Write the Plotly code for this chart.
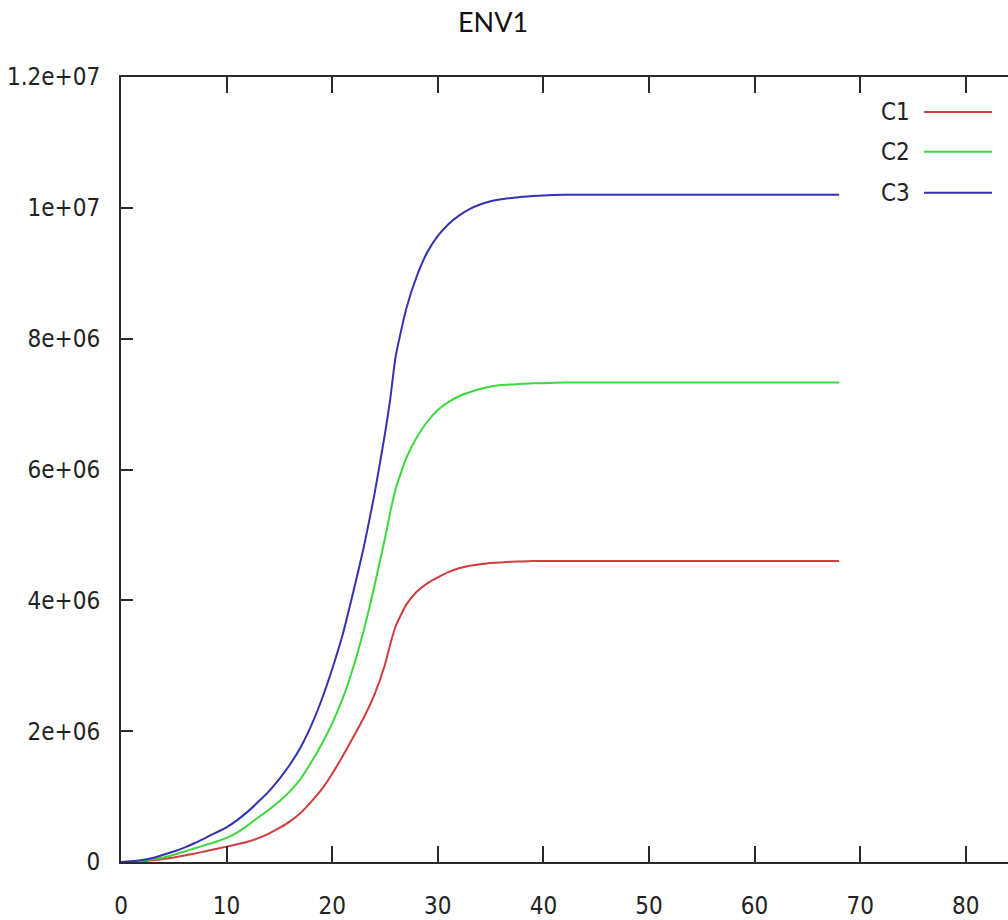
import plotly.graph_objects as go

# Time axis (shared by all three series)
t = [0, 1, 2, 3, 4, 5, 6, 7, 8, 9, 10, 11, 12, 13, 14, 15, 16, 17, 18, 19, 20,
     21, 22, 23, 24, 25, 25.5, 26, 27, 28, 29, 30, 31, 32, 33, 34, 35, 36, 37, 38,
     39, 40, 42, 44, 46, 48, 50, 52, 54, 56, 58, 60, 62, 64, 66, 68]

# Series values (millions)
c1 = [0, 0.003, 0.01, 0.025, 0.045, 0.07, 0.10, 0.13, 0.165, 0.20, 0.235, 0.27,
      0.31, 0.365, 0.435, 0.52, 0.62, 0.75, 0.92, 1.11, 1.35, 1.62, 1.91, 2.21,
      2.56, 3.02, 3.33, 3.60, 3.93, 4.13, 4.26, 4.35, 4.43, 4.49, 4.53, 4.55,
      4.57, 4.58, 4.59, 4.595, 4.60, 4.60, 4.60, 4.60, 4.60, 4.60, 4.60, 4.60,
      4.60, 4.60, 4.60, 4.60, 4.60, 4.60, 4.60, 4.60]
c2 = [0, 0.005, 0.02, 0.04, 0.07, 0.11, 0.16, 0.21, 0.26, 0.31, 0.37, 0.45,
      0.56, 0.68, 0.80, 0.93, 1.08, 1.27, 1.52, 1.80, 2.12, 2.50, 2.98, 3.55,
      4.22, 4.95, 5.35, 5.70, 6.17, 6.49, 6.73, 6.91, 7.03, 7.12, 7.18, 7.23,
      7.27, 7.29, 7.30, 7.31, 7.32, 7.32, 7.33, 7.33, 7.33, 7.33, 7.33, 7.33,
      7.33, 7.33, 7.33, 7.33, 7.33, 7.33, 7.33, 7.33]
c3 = [0, 0.01, 0.03, 0.06, 0.11, 0.16, 0.22, 0.29, 0.37, 0.45, 0.53, 0.64,
      0.77, 0.92, 1.08, 1.27, 1.49, 1.75, 2.08, 2.48, 2.95, 3.48, 4.13, 4.82,
      5.62, 6.55, 7.08, 7.72, 8.45, 8.95, 9.32, 9.57, 9.75, 9.88, 9.98, 10.05,
      10.10, 10.13, 10.15, 10.17, 10.18, 10.19, 10.20, 10.20, 10.20, 10.20,
      10.20, 10.20, 10.20, 10.20, 10.20, 10.20, 10.20, 10.20, 10.20, 10.20]

series_names = ["C1", "C2", "C3"]
series_colors = ["#d23c3c", "#3cd83c", "#3232b4"]

x_ticks = [0, 10, 20, 30, 40, 50, 60, 70, 80]
y_ticks = [0, 2e6, 4e6, 6e6, 8e6, 1e7, 1.2e7]
y_tick_text = ["0", "2e+06", "4e+06", "6e+06", "8e+06", "1e+07", "1.2e+07"]

W, H = 1008, 920
L, R, T, B = 121, 0, 77, 56
tick_font = dict(family="DejaVu Sans Condensed, DejaVu Sans", size=24, color="#222222")

fig = go.Figure()
for name, vals, col in zip(series_names, [c1, c2, c3], series_colors):
    fig.add_trace(go.Scatter(
        x=t, y=[v * 1e6 for v in vals], mode="lines", name=name,
        line=dict(color=col, width=2, shape="spline", smoothing=0.5),
        showlegend=False,
    ))

# gnuplot-style key: label on the left, line sample on the right
pw, ph = W - L - R, H - T - B
def px_x(p):
    return (p - L) / pw
def px_y(p):
    return (H - B - p) / ph

key_rows = [112, 152, 193]
for name, col, ry in zip(series_names, series_colors, key_rows):
    fig.add_shape(type="line", xref="paper", yref="paper",
                  x0=px_x(924), x1=px_x(992), y0=px_y(ry), y1=px_y(ry),
                  line=dict(color=col, width=2))
    fig.add_annotation(text=name, xref="paper", yref="paper",
                       x=px_x(912), y=px_y(ry), xanchor="right", yanchor="middle",
                       showarrow=False, font=tick_font)

fig.add_annotation(text="ENV1", xref="paper", yref="paper",
                   x=px_x(493), y=px_y(21), xanchor="center", yanchor="middle",
                   showarrow=False,
                   font=dict(family="Lato, Open Sans, sans-serif", size=27, color="#111111"))

axis_common = dict(
    showgrid=False, zeroline=False, showline=True, linecolor="#2a2a2a",
    linewidth=2, ticks="inside", tickcolor="#2a2a2a", tickwidth=1.5,
    tickfont=tick_font,
)

fig.update_xaxes(range=[0, pw / 10.56], tickvals=x_ticks,
                 ticktext=[str(v) for v in x_ticks], ticklen=16,
                 mirror="ticks", ticklabelstandoff=21, **axis_common)
fig.update_yaxes(range=[0, 1.2e7], tickvals=y_ticks, ticktext=y_tick_text,
                 ticklen=12, mirror=False, ticklabelstandoff=14, **axis_common)

fig.update_layout(
    width=W, height=H, margin=dict(l=L, r=R, t=T, b=B),
    paper_bgcolor="white", plot_bgcolor="white",
)

fig.write_html("out.html")
